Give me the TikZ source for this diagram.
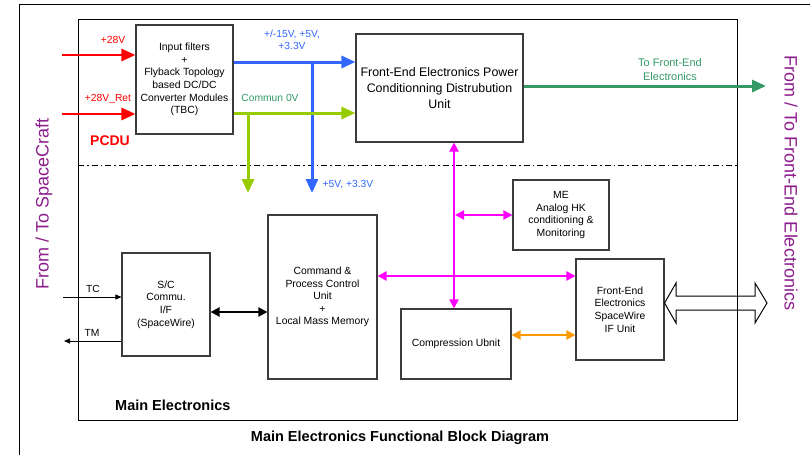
\documentclass[tikz,border=0pt]{standalone}
\usepackage{fontspec}
\setmainfont{Liberation Sans}
\usetikzlibrary{arrows.meta}
\definecolor{pwrred}{RGB}{255,0,0}
\definecolor{pwrblue}{RGB}{51,102,255}
\definecolor{pwrlime}{RGB}{153,204,0}
\definecolor{pwrteal}{RGB}{51,153,102}
\definecolor{bmag}{RGB}{255,0,255}
\definecolor{borange}{RGB}{255,153,0}
\definecolor{vpurple}{RGB}{140,30,140}
\definecolor{boxline}{RGB}{60,60,60}
\tikzset{
  blk/.style={draw=boxline, line width=1.1pt, rectangle, inner sep=0pt, align=center,
    font=\fontsize{10.4}{12.6}\selectfont},
  lbl/.style={inner sep=0pt, align=center, font=\fontsize{10.3}{12}\selectfont},
  fat/.style={line width=3pt, -{Triangle[length=14pt,width=12pt]}},
  thin2/.style={line width=2pt, {Triangle[length=9pt,width=9pt]}-{Triangle[length=9pt,width=9pt]}},
  vtext/.style={inner sep=0pt, text=vpurple, font=\fontsize{18}{20}\selectfont}
}
\begin{document}
\begin{tikzpicture}[x=1pt,y=-1pt]
\useasboundingbox (0,0) rectangle (810,455);
% outer and inner frames
\draw[line width=1pt] (19,455) -- (19,4) -- (810,4);
\draw[line width=1pt] (78,19) rectangle (737,420);
\draw[line width=0.8pt, dash pattern=on 6pt off 3pt on 1.5pt off 3pt] (78,165) -- (737,165);

% blocks
\node[blk, minimum width=97pt, minimum height=109pt] (inbox) at (184.5,79.5)
  {Input filters\\+\\Flyback Topology\\based DC/DC\\Converter Modules\\(TBC)};
\node[blk, minimum width=167pt, minimum height=108pt, font=\fontsize{12.4}{15.6}\selectfont] (pcdu) at (439.5,88)
  {Front-End Electronics Power\\Conditionning Distrubution\\Unit};
\node[blk, minimum width=96pt, minimum height=70pt] (me) at (561,215)
  {ME\\Analog HK\\conditioning \&\\Monitoring};
\node[blk, minimum width=88pt, minimum height=101pt] (fspw) at (620,309.5)
  {Front-End\\Electronics\\SpaceWire\\IF Unit};
\node[blk, minimum width=110pt, minimum height=70pt] (comp) at (456,344)
  {Compression Ubnit};
\node[blk, minimum width=109pt, minimum height=164pt] (cmd) at (322.5,297)
  {Command \&\\Process Control\\Unit\\+\\Local Mass Memory};
\node[blk, minimum width=88pt, minimum height=103pt] (sc) at (166,304.5)
  {S/C\\Commu.\\I/F\\(SpaceWire)};

% free ends
\coordinate (r1) at (62,55);
\coordinate (r2) at (62,114);
\coordinate (bsplit) at (312,62);
\coordinate (bend) at (312,193);
\coordinate (gsplit) at (248,113);
\coordinate (gend) at (248,193);
\coordinate (tend) at (766,86);
\coordinate (mx) at (454,215);
\coordinate (tcstart) at (63,297);
\coordinate (tmend) at (64,341);

% power arrows
\draw[fat, pwrred, line width=2.6pt] (r1) -- (r1 -| inbox.west);
\draw[fat, pwrred, line width=2.6pt] (r2) -- (r2 -| inbox.west);
\draw[fat, pwrblue] (bsplit -| inbox.east) -- (bsplit -| pcdu.west);
\draw[fat, pwrblue] (bsplit) -- (bend);
\draw[fat, pwrlime] (gsplit -| inbox.east) -- (gsplit -| pcdu.west);
\draw[fat, pwrlime] (gsplit) -- (gend);
\draw[fat, pwrteal] (tend -| pcdu.east) -- (tend);

% data arrows
\draw[thin2, bmag] (mx |- pcdu.south) -- (mx |- comp.north);
\draw[thin2, bmag] ([xshift=1pt]mx) -- (me.west |- mx);
\draw[thin2, bmag] (cmd.east |- 0,276) -- (fspw.west |- 0,276);
\draw[thin2, borange] (comp.east |- 0,335) -- (fspw.west |- 0,335);
\draw[line width=2.4pt, {Triangle[length=9pt,width=9pt]}-{Triangle[length=9pt,width=9pt]}] (sc.east |- 0,312) -- (cmd.west |- 0,312);
\draw[line width=0.8pt, -{Triangle[length=6pt,width=5pt]}] (tcstart) -- (tcstart -| sc.west);
\draw[line width=0.8pt, -{Triangle[length=6pt,width=5pt]}] (tmend -| sc.west) -- (tmend);

% hollow double arrow
\draw[line width=1pt, line join=miter] (fspw.east |- 0,303) -- (676,283) -- (676,296) -- (755,296) -- (755,283)
  -- (767,303) -- (755,323) -- (755,310) -- (676,310) -- (676,323) -- cycle;

% labels
\node[lbl, text=pwrred] (l28) at (113,40) {+28V};
\node[lbl, text=pwrred] (l28r) at (108,99) {+28V\_Ret};
\node[lbl, text=pwrred, font=\bfseries\fontsize{14}{16}\selectfont] (lpcdu) at (110,141) {PCDU};
\node[lbl, text=pwrblue] (lbl15) at (292,40) {+/-15V, +5V,\\+3.3V};
\node[lbl, text=pwrteal] (lcom) at (270,98) {Commun 0V};
\node[lbl, text=pwrblue] (l5v) at (348,185) {+5V, +3.3V};
\node[lbl, text=pwrteal, font=\fontsize{11}{14}\selectfont] (ltofe) at (670,70) {To Front-End\\Electronics};
\node[lbl] (ltc) at (93,289) {TC};
\node[lbl] (ltm) at (92,333) {TM};
\node[lbl, anchor=west, font=\bfseries\fontsize{14.5}{16}\selectfont] (lmain) at (115,405) {Main Electronics};
\node[lbl, font=\bfseries\fontsize{14.5}{16}\selectfont] (ltitle) at (400,438) {Main Electronics Functional Block Diagram};
\node[vtext, rotate=90] (lsc) at (44,204) {From / To SpaceCraft};
\node[vtext, rotate=-90] (lfe) at (791,183) {From / To Front-End Electronics};
\end{tikzpicture}
\end{document}
